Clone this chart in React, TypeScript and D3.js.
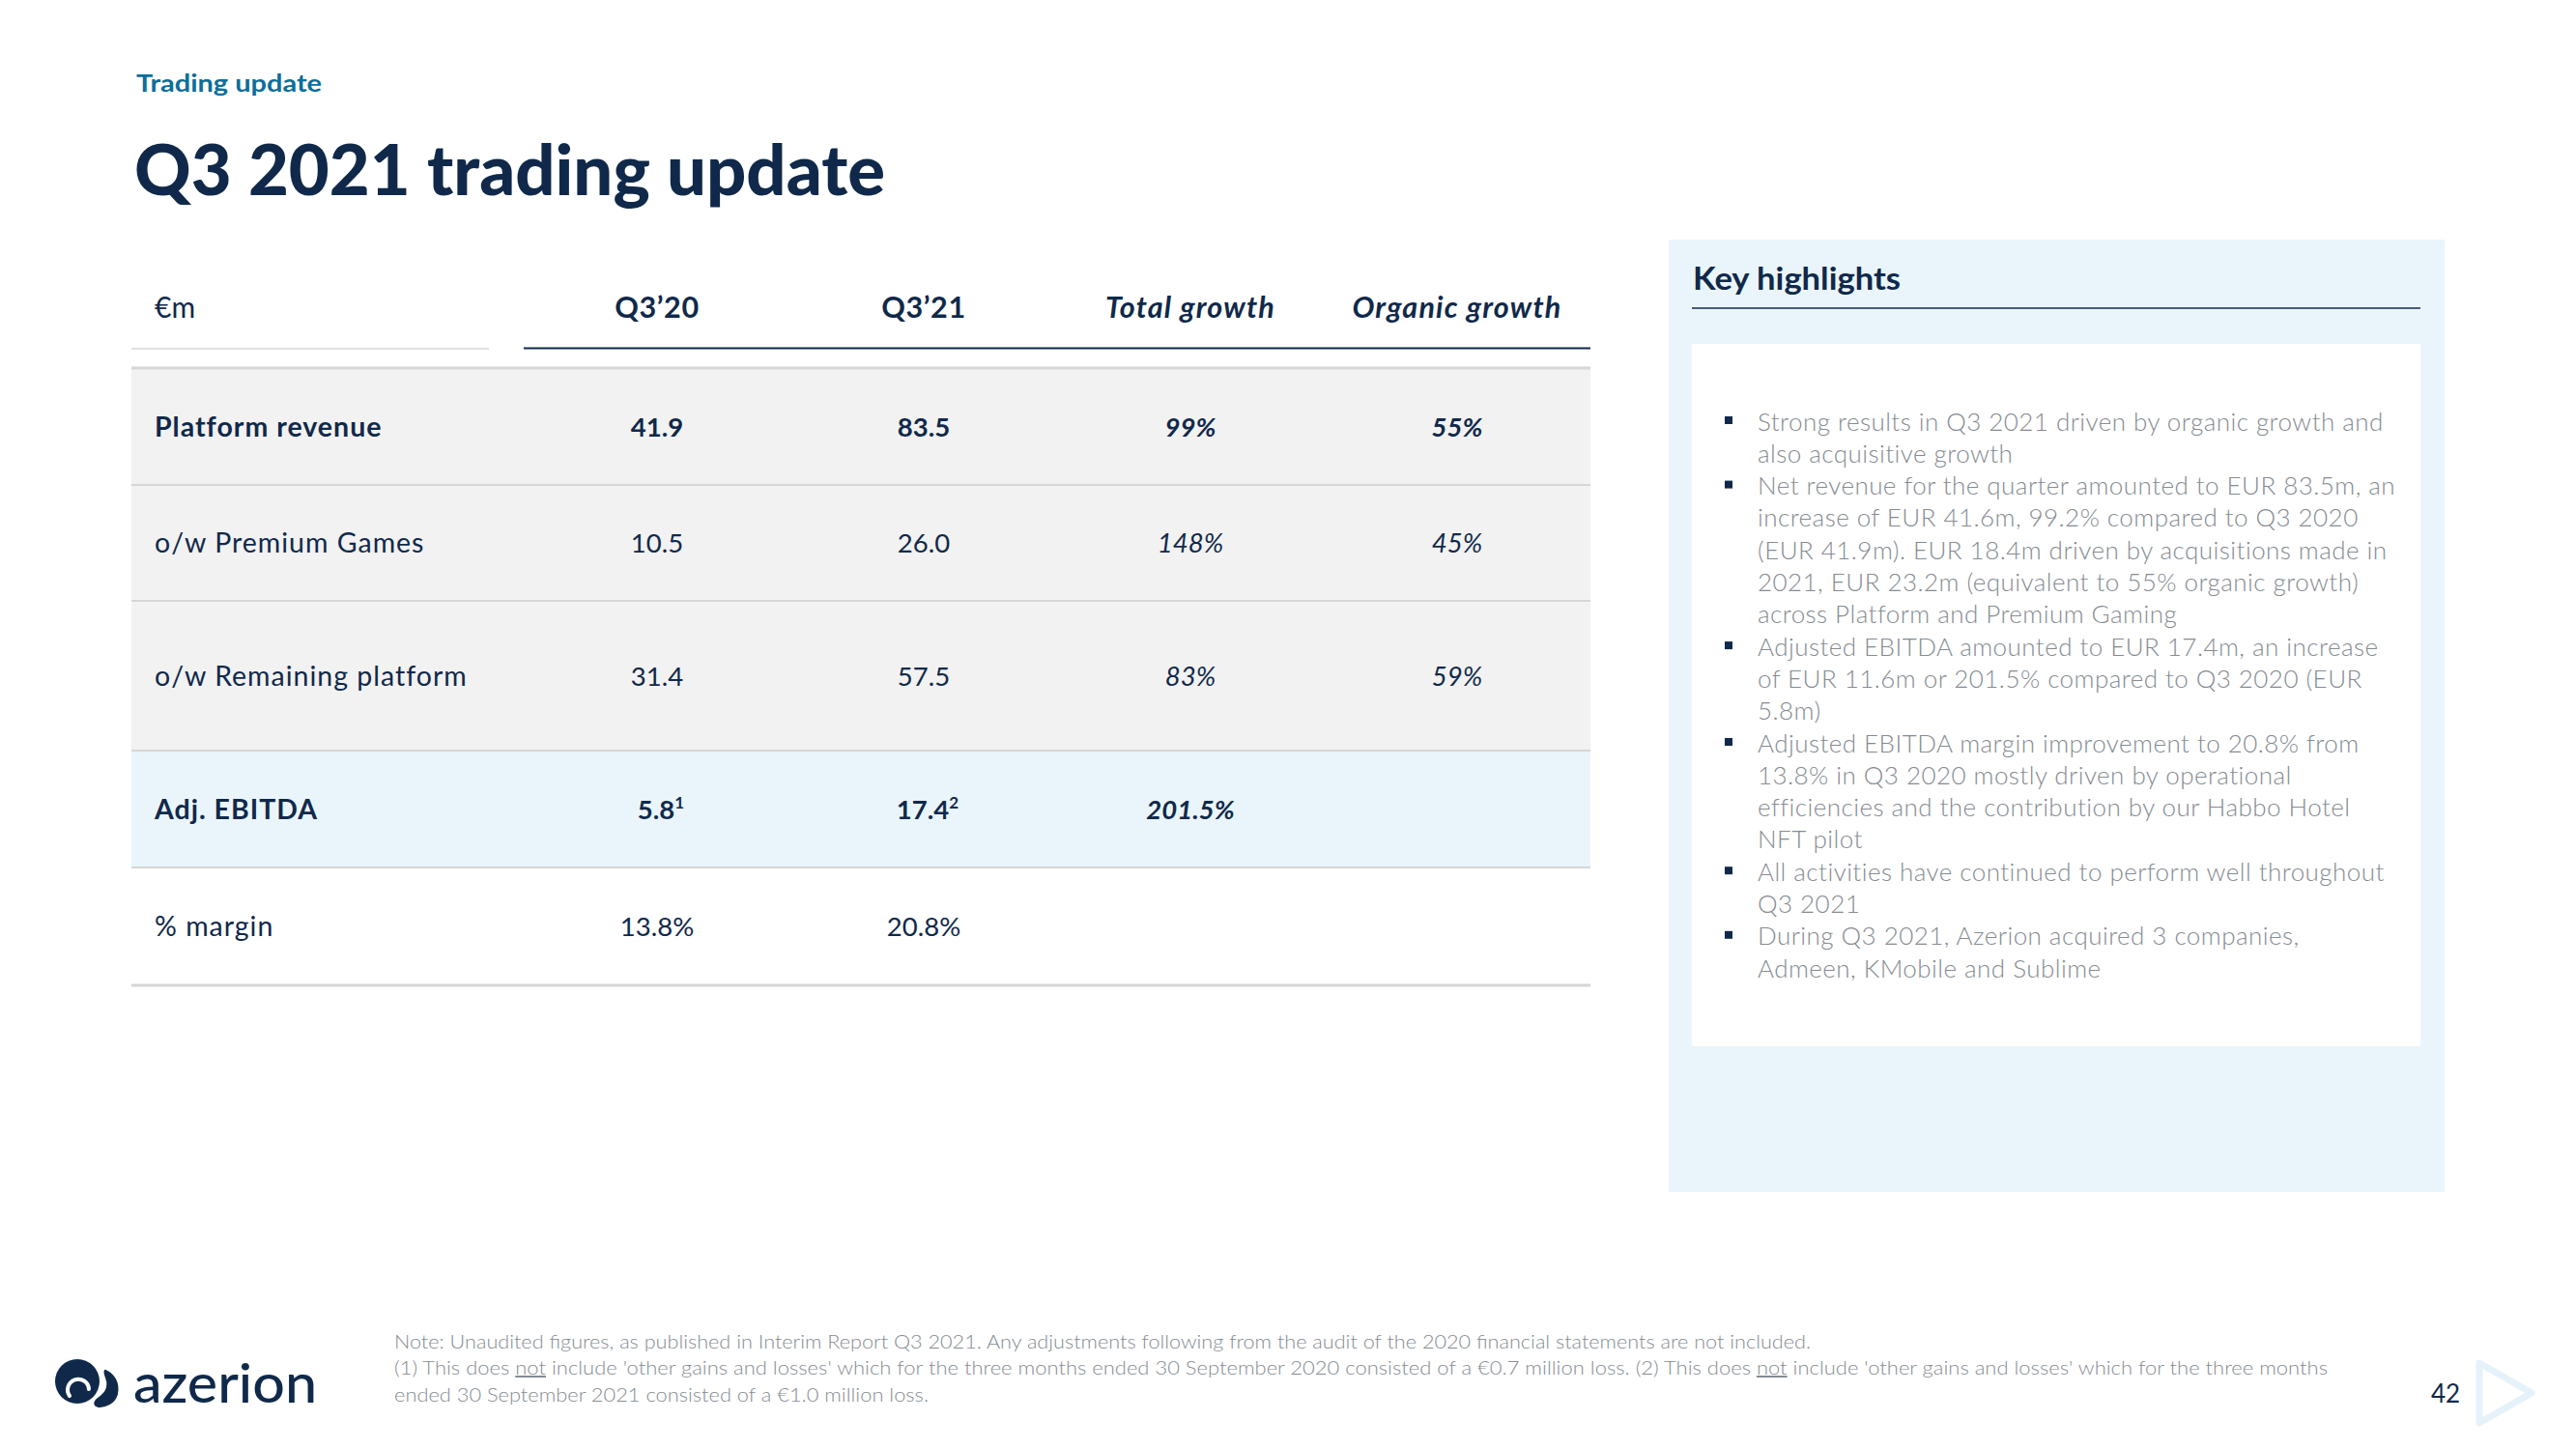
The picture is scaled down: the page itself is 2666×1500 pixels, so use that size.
import React, { useEffect } from "react";
import * as d3 from "d3";

// ---------- data ----------
const columnHeaders = ["Q3’20", "Q3’21", "Total growth", "Organic growth"];
const unitLabel = "€m";
const rowLabels = ["Platform revenue", "o/w Premium Games", "o/w Remaining platform", "Adj. EBITDA", "% margin"];
const q320Values = ["41.9", "10.5", "31.4", "5.8", "13.8%"];
const q321Values = ["83.5", "26.0", "57.5", "17.4", "20.8%"];
const totalGrowthValues = ["99%", "148%", "83%", "201.5%", ""];
const organicGrowthValues = ["55%", "45%", "59%", "", ""];
const q320Notes = ["", "", "", "1", ""];
const q321Notes = ["", "", "", "2", ""];
const rowBold = [true, false, false, true, false];
const rowFill = ["grey", "grey", "grey", "blue", "none"];

const highlightBullets: string[][] = [
  ["Strong results in Q3 2021 driven by organic growth and", "also acquisitive growth"],
  [
    "Net revenue for the quarter amounted to EUR 83.5m, an",
    "increase of EUR 41.6m, 99.2% compared to Q3 2020",
    "(EUR 41.9m). EUR 18.4m driven by acquisitions made in",
    "2021, EUR 23.2m (equivalent to 55% organic growth)",
    "across Platform and Premium Gaming",
  ],
  ["Adjusted EBITDA amounted to EUR 17.4m, an increase", "of EUR 11.6m or 201.5% compared to Q3 2020 (EUR", "5.8m)"],
  [
    "Adjusted EBITDA margin improvement to 20.8% from",
    "13.8% in Q3 2020 mostly driven by operational",
    "efficiencies and the contribution by our Habbo Hotel",
    "NFT pilot",
  ],
  ["All activities have continued to perform well throughout", "Q3 2021"],
  ["During Q3 2021, Azerion acquired 3 companies,", "Admeen, KMobile and Sublime"],
];

// ---------- layout ----------
const W = 2666;
const H = 1500;
const NAVY = "#10294a";
const TEAL = "#0b6e9c";
const GREY_TXT = "#858b92";
const LINE = "#d6d6d6";
const FONT = "Lato, 'Open Sans', sans-serif";

const tableLeft = 136;
const tableRight = 1646;
const valuesLeft = 542;
const labelX = 160;
const headerY = 318;
const tableTop = 381;
const rowHeights = [121, 120, 155, 121, 122];

export default function App() {
  useEffect(() => {
    document.body.style.margin = "0";
  }, []);

  const xCol = d3.scaleBand<string>().domain(columnHeaders).range([valuesLeft, tableRight]);
  const cx = (c: string) => (xCol(c) as number) + xCol.bandwidth() / 2;
  const rowTops: number[] = Array.from(d3.cumsum([0, ...rowHeights]), (v) => v + tableTop);
  const yRow = d3.scaleOrdinal<string, number>().domain(rowLabels).range(rowTops.slice(0, rowLabels.length));

  const cellText = (txt: string, x: number, y: number, bold: boolean, italic: boolean, note: string, key: string) => (
    <text
      key={key}
      x={x}
      y={y}
      textAnchor="middle"
      fontFamily={FONT}
      fontSize={27.5}
      fontWeight={bold ? 700 : 400}
      fontStyle={italic ? "italic" : "normal"}
      fill={NAVY}
    >
      {txt}
      {note ? (
        <tspan fontSize={17} dy={-11}>
          {note}
        </tspan>
      ) : null}
    </text>
  );

  // bullets
  const bulletLineH = 33.3;
  let lineIdx = 0;
  const bulletEls: React.ReactNode[] = [];
  highlightBullets.forEach((b, bi) => {
    const y0 = 437 + lineIdx * bulletLineH;
    bulletEls.push(<rect key={"sq" + bi} x={1785} y={y0 - 6} width={8} height={8} fill={NAVY} />);
    b.forEach((line, li) => {
      bulletEls.push(
        <text
          key={`bl${bi}-${li}`}
          x={1819}
          y={437 + lineIdx * bulletLineH + 8.5}
          fontFamily={FONT}
          fontWeight={300}
          fontSize={26}
          letterSpacing={0.45}
          fill={GREY_TXT}
        >
          {line}
        </text>
      );
      lineIdx++;
    });
  });

  return (
    <svg width={W} height={H} viewBox={`0 0 ${W} ${H}`} style={{ display: "block", background: "#fff" }}>
      <rect x={0} y={0} width={W} height={H} fill="#fff" />
      {/* Header */}
      <text x={141} y={95} fontFamily={FONT} fontWeight={700} fontSize={25} fill={TEAL} textLength={192} lengthAdjust="spacingAndGlyphs">
        Trading update
      </text>
      <text x={139} y={202} fontFamily={FONT} fontWeight={900} fontSize={73} fill={NAVY} textLength={777} lengthAdjust="spacingAndGlyphs">
        Q3 2021 trading update
      </text>

      {/* Table backgrounds */}
      {rowLabels.map((r, i) =>
        rowFill[i] === "none" ? null : (
          <rect
            key={"bg" + i}
            x={tableLeft}
            y={yRow(r)}
            width={tableRight - tableLeft}
            height={rowHeights[i]}
            fill={rowFill[i] === "grey" ? "#f2f2f2" : "#eaf5fb"}
          />
        )
      )}
      {/* Row separators */}
      {rowTops.map((y, i) => (
        <line
          key={"sep" + i}
          x1={tableLeft}
          x2={tableRight}
          y1={y}
          y2={y}
          stroke={LINE}
          strokeWidth={i === 0 || i === rowTops.length - 1 ? 3 : 2}
        />
      ))}
      {/* Header lines */}
      <line x1={tableLeft} x2={506} y1={361} y2={361} stroke={LINE} strokeWidth={1.5} />
      <line x1={valuesLeft} x2={tableRight} y1={360.5} y2={360.5} stroke={NAVY} strokeWidth={2} />

      {/* Header texts */}
      <text x={labelX} y={headerY + 11} fontFamily={FONT} fontSize={30} fill={NAVY}>
        {unitLabel}
      </text>
      {columnHeaders.map((c, i) => (
        <text
          key={"h" + i}
          x={cx(c)}
          y={headerY + 11}
          textAnchor="middle"
          fontFamily={FONT}
          fontSize={30.5}
          fontWeight={700}
          letterSpacing={i >= 2 ? 1.2 : 0.6}
          fontStyle={i >= 2 ? "italic" : "normal"}
          fill={NAVY}
        >
          {c}
        </text>
      ))}

      {/* Rows */}
      {rowLabels.map((r, i) => {
        const yc = (yRow(r) as number) + rowHeights[i] / 2 + 10;
        return (
          <g key={"row" + i}>
            <text
              x={labelX}
              y={yc}
              fontFamily={FONT}
              fontSize={28.5}
              letterSpacing={1}
              fontWeight={rowBold[i] ? 700 : 400}
              fill={NAVY}
            >
              {r}
            </text>
            {cellText(q320Values[i], cx(columnHeaders[0]) + (q320Notes[i] ? 4 : 0), yc, rowBold[i], false, q320Notes[i], "a" + i)}
            {cellText(q321Values[i], cx(columnHeaders[1]) + (q321Notes[i] ? 4 : 0), yc, rowBold[i], false, q321Notes[i], "b" + i)}
            {cellText(totalGrowthValues[i], cx(columnHeaders[2]), yc, rowBold[i], true, "", "c" + i)}
            {cellText(organicGrowthValues[i], cx(columnHeaders[3]), yc, rowBold[i], true, "", "d" + i)}
          </g>
        );
      })}

      {/* Key highlights panel */}
      <rect x={1727} y={248} width={803} height={986} fill="#eaf5fb" />
      <text x={1752} y={300} fontFamily={FONT} fontWeight={700} fontSize={32} fill={NAVY} textLength={215} lengthAdjust="spacingAndGlyphs">
        Key highlights
      </text>
      <line x1={1751} x2={2505} y1={319} y2={319} stroke={NAVY} strokeWidth={1.5} />
      <rect x={1751} y={356} width={754} height={727} fill="#fff" />
      {bulletEls}

      {/* Footer notes */}
      <g fontFamily={FONT} fontWeight={300} fontSize={20} fill={GREY_TXT}>
        <text x={408} y={1396} textLength={1466} lengthAdjust="spacingAndGlyphs">
          Note: Unaudited figures, as published in Interim Report Q3 2021. Any adjustments following from the audit of the 2020 financial statements are not included.
        </text>
        <text x={408} y={1423} textLength={2001} lengthAdjust="spacingAndGlyphs">
          (1) This does <tspan textDecoration="underline">not</tspan> include 'other gains and losses' which for the three months ended 30 September 2020 consisted of a €0.7 million loss. (2) This does{" "}
          <tspan textDecoration="underline">not</tspan> include 'other gains and losses' which for the three months
        </text>
        <text x={408} y={1451} textLength={553} lengthAdjust="spacingAndGlyphs">
          ended 30 September 2021 consisted of a €1.0 million loss.
        </text>
      </g>

      {/* Logo */}
      <g>
        <circle cx={80} cy={1430} r={23} fill={NAVY} />
        <path d="M 72 1445 A 11 11 0 1 1 92 1438" fill="none" stroke="#fff" strokeWidth={4} strokeLinecap="round" />
        <path
          d="M 108 1416 C 120 1420 126 1432 123 1444 C 120 1454 110 1459 101 1458 C 96 1457 94 1452 98 1448 C 104 1443 110 1440 109 1431 C 108 1425 104 1421 108 1416 Z"
          fill={NAVY}
          stroke="#fff"
          strokeWidth={2.5}
        />
      </g>
      <text x={138} y={1452} fontFamily={FONT} fontWeight={500} fontSize={56} fill={NAVY} textLength={190} lengthAdjust="spacingAndGlyphs">
        azerion
      </text>

      {/* Page number and arrow */}
      <text x={2531} y={1452} textAnchor="middle" fontFamily={FONT} fontSize={26} fill={NAVY}>
        42
      </text>
      <path d="M 2566 1411 L 2620 1442 L 2566 1473 Z" fill="none" stroke="#e6f2f9" strokeWidth={7} strokeLinejoin="round" />
    </svg>
  );
}
